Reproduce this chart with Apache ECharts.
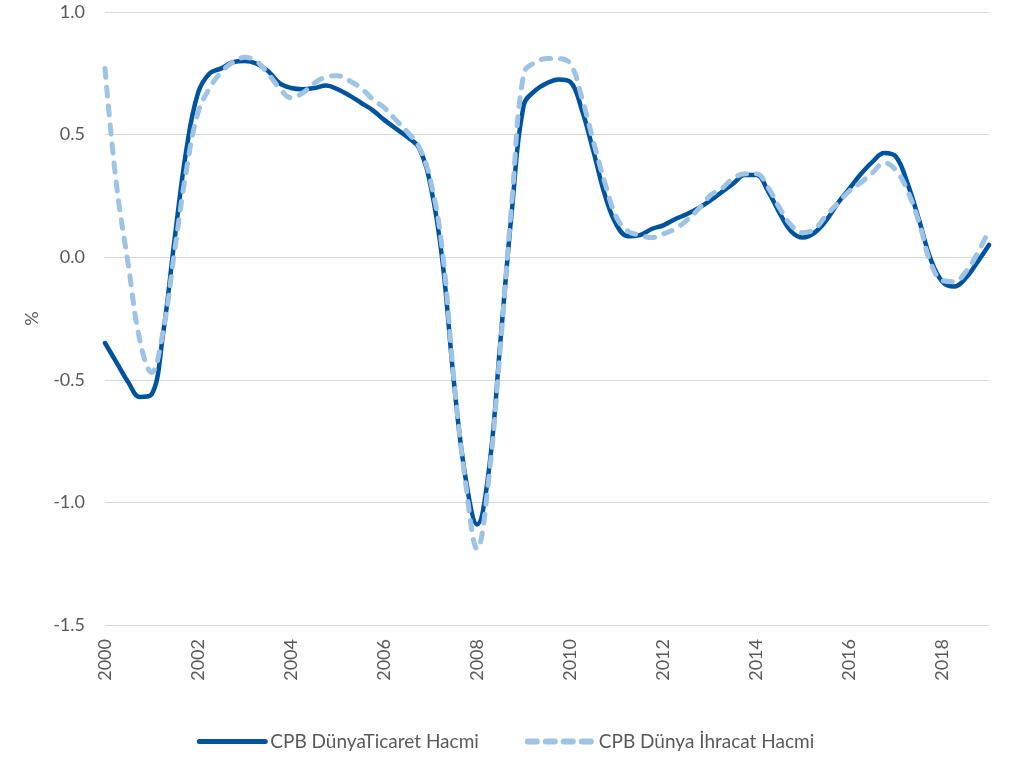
<!DOCTYPE html>
<html>
<head>
<meta charset="utf-8">
<script src="https://cdn.jsdelivr.net/npm/echarts@6/dist/echarts.min.js"></script>
<style>
  html, body { margin: 0; padding: 0; background: #fff; }
  #chart { width: 1011px; height: 757px; }
</style>
</head>
<body>
<div id="chart"></div>
<script>
// ceyrek (quarter) points, 2000 Q1 .. 2019 Q1
const quarters = []
for (let y = 2000; y <= 2019; y++) {
  for (let q = 0; q < 4; q++) {
    if (y === 2019 && q > 0) break
    quarters.push(y + q / 4)
  }
}

const ticaretHacmi = [
  -0.35, -0.43, -0.51, -0.57,
  -0.56, -0.31, 0.08, 0.44,
  0.67, 0.75, 0.77, 0.795,
  0.80, 0.79, 0.76, 0.71,
  0.69, 0.685, 0.69, 0.70,
  0.685, 0.66, 0.63, 0.60,
  0.56, 0.525, 0.49, 0.445,
  0.29, -0.01, -0.51, -0.90,
  -1.09, -0.87, -0.34, 0.20,
  0.62, 0.68, 0.71, 0.725,
  0.715, 0.60, 0.43, 0.25,
  0.13, 0.085, 0.09, 0.115,
  0.13, 0.155, 0.175, 0.20,
  0.23, 0.265, 0.30, 0.335,
  0.335, 0.27, 0.18, 0.105,
  0.08, 0.10, 0.15, 0.22,
  0.28, 0.34, 0.39, 0.425,
  0.41, 0.30, 0.15, -0.01,
  -0.10, -0.12, -0.085, -0.02,
  0.05
]

const ihracatHacmi = [
  0.77, 0.29, -0.03, -0.34,
  -0.47, -0.30, 0.03, 0.355,
  0.59, 0.69, 0.755, 0.795,
  0.815, 0.80, 0.75, 0.69,
  0.65, 0.67, 0.71, 0.735,
  0.74, 0.72, 0.69, 0.645,
  0.61, 0.56, 0.51, 0.45,
  0.31, 0.03, -0.50, -0.92,
  -1.19, -0.90, -0.36, 0.24,
  0.75, 0.795, 0.81, 0.81,
  0.79, 0.65, 0.47, 0.30,
  0.16, 0.105, 0.09, 0.08,
  0.095, 0.115, 0.15, 0.195,
  0.25, 0.28, 0.32, 0.34,
  0.34, 0.285, 0.20, 0.13,
  0.10, 0.115, 0.17, 0.22,
  0.27, 0.305, 0.345, 0.385,
  0.355, 0.27, 0.14, -0.025,
  -0.095, -0.10, -0.06, 0.015,
  0.11
]

const seriesNames = ['CPB DünyaTicaret Hacmi', 'CPB Dünya İhracat Hacmi']
const colors = ['#00539F', '#9DC3E6']

const fontName = 'Lato'
const textColor = '#595959'

const chart = echarts.init(document.getElementById('chart'))

const option = {
  animation: false,
  grid: {
    left: 105,
    right: 22,
    top: 12,
    bottom: 132
  },
  legend: {
    bottom: 1,
    left: 'center',
    itemWidth: 66,
    itemHeight: 6,
    itemGap: 46,
    itemStyle: { opacity: 0 },
    textStyle: { fontFamily: fontName, fontSize: 19, color: textColor },
    data: [
      { name: seriesNames[0], lineStyle: { color: colors[0], width: 5, cap: 'round' } },
      { name: seriesNames[1], lineStyle: { color: colors[1], width: 6, type: [9, 9], cap: 'round' } }
    ]
  },
  xAxis: {
    type: 'value',
    min: 2000,
    max: 2019,
    interval: 2,
    axisLine: { show: true, lineStyle: { color: '#d9d9d9' } },
    axisTick: { show: false },
    splitLine: { show: false },
    axisLabel: {
      rotate: 90,
      showMaxLabel: false,
      margin: 14,
      fontFamily: fontName,
      fontSize: 18,
      color: textColor,
      formatter: v => String(v)
    }
  },
  yAxis: {
    type: 'value',
    min: -1.5,
    max: 1.0,
    interval: 0.5,
    name: '%',
    nameLocation: 'middle',
    nameGap: 64,
    nameTextStyle: { fontFamily: fontName, fontSize: 18, color: textColor },
    axisLine: { show: false },
    axisTick: { show: false },
    splitLine: { lineStyle: { color: '#d9d9d9', width: 1 } },
    axisLabel: {
      margin: 20,
      fontFamily: fontName,
      fontSize: 18,
      color: textColor,
      formatter: v => v.toFixed(1)
    }
  },
  series: [
    {
      name: seriesNames[0],
      type: 'line',
      smooth: 0.4,
      symbol: 'none',
      data: quarters.map((x, i) => [x, ticaretHacmi[i]]),
      lineStyle: { color: colors[0], width: 4.5, cap: 'round' },
      itemStyle: { color: colors[0] }
    },
    {
      name: seriesNames[1],
      type: 'line',
      smooth: 0.4,
      symbol: 'none',
      data: quarters.map((x, i) => [x, ihracatHacmi[i]]),
      lineStyle: { color: colors[1], width: 5, type: [9, 10], cap: 'round' },
      itemStyle: { color: colors[1] }
    }
  ]
}

chart.setOption(option)
</script>
</body>
</html>
